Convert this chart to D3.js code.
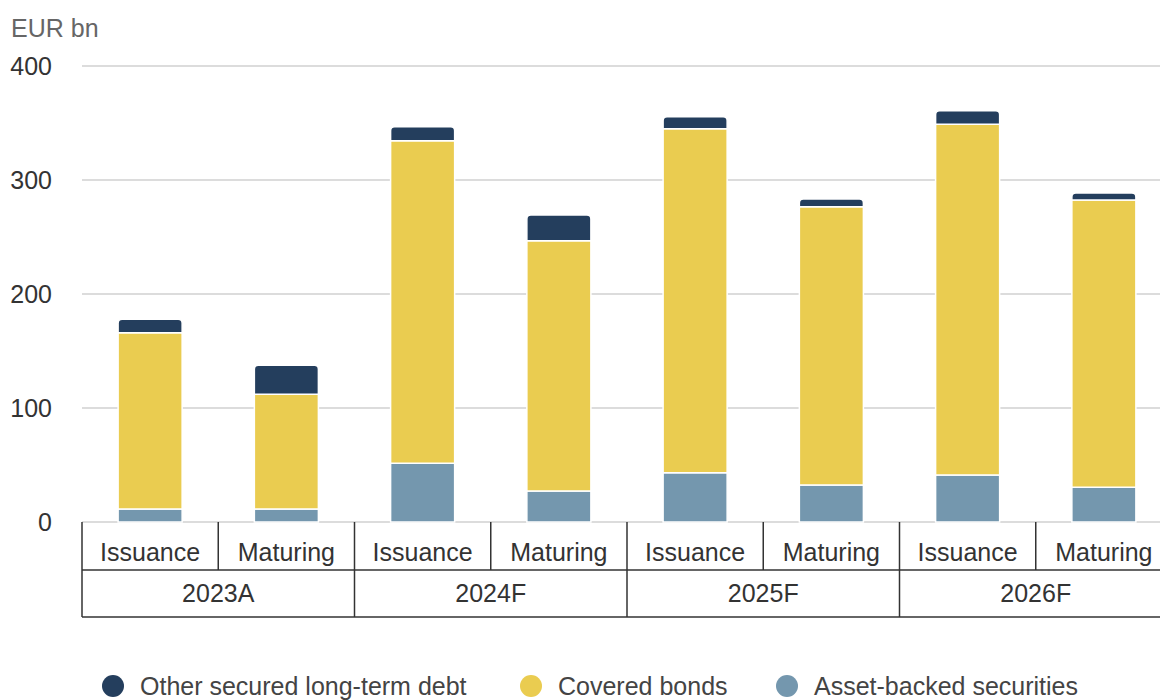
<!DOCTYPE html>
<html>
<head>
<meta charset="utf-8">
<script src="https://cdn.jsdelivr.net/npm/d3@7"></script>
<style>
  body { margin: 0; background: #fff; }
  svg { display: block; font-family: "Liberation Sans", Arial, sans-serif; }
</style>
</head>
<body>
<svg id="chart"></svg>
<script>
"use strict";

// ==========================
// data
// ==========================
var years = ["2023A", "2024F", "2025F", "2026F"],
    flows = ["Issuance", "Maturing"];

// one value per column: year x flow, in the order above
var absValues = [11.4, 11.4, 51.5, 27.2, 43.2, 32.5, 41.2, 30.4],
    coveredValues = [154.6, 100.6, 283, 219.6, 301.8, 244.1, 307.7, 252.1],
    otherValues = [11.8, 25.4, 12.3, 22.5, 10.5, 6.7, 11.9, 6.1];

var yTicks = [0, 100, 200, 300, 400];

var seriesNames = ["Other secured long-term debt", "Covered bonds", "Asset-backed securities"],
    seriesKeys = ["other", "covered", "abs"],
    colors = { other: "#243e5d", covered: "#eacc50", abs: "#7497ae" };

// ==========================
// chart
// ==========================
var width = 1160, height = 700, fs = 25;
var svg = d3.select("#chart").attr("width", width).attr("height", height);

var columns = [];
years.forEach(function (yr, i) {
  flows.forEach(function (f, j) {
    var k = i * flows.length + j;
    columns.push({ id: yr + "|" + f, year: yr, flow: f,
      abs: absValues[k], covered: coveredValues[k], other: otherValues[k] });
  });
});

var left = 82, right = 1172, baseY = 522, topY = 66;

var x = d3.scaleBand().domain(columns.map(function (d) { return d.id; }))
  .range([left, right]).paddingInner(0.53).paddingOuter(0.265);
var cell = d3.scaleBand().domain(columns.map(function (d) { return d.id; }))
  .range([left, right]).padding(0);
var yearCell = d3.scaleBand().domain(years).range([left, right]).padding(0);
var y = d3.scaleLinear().domain([0, 400]).range([baseY, topY]);

// unit label
svg.append("text").attr("x", 11).attr("y", 37)
  .attr("font-size", fs).attr("fill", "#666").text("EUR bn");

// gridlines + tick labels
var yAxis = svg.append("g").attr("class", "axis axis--y");
yAxis.selectAll("line").data(yTicks).enter().append("line")
  .attr("x1", left).attr("x2", width)
  .attr("y1", function (d) { return y(d); }).attr("y2", function (d) { return y(d); })
  .attr("stroke", "#d0d0d0").attr("stroke-width", 1.5);
yAxis.selectAll("text").data(yTicks).enter().append("text")
  .attr("x", 52).attr("y", function (d) { return y(d); }).attr("dy", "0.35em")
  .attr("text-anchor", "end").attr("font-size", fs).attr("fill", "#333")
  .text(function (d) { return d; });

// stacked bars
var stack = d3.stack().keys(["abs", "covered", "other"]);
var layers = stack(columns);

function topRounded(x0, y0, w, h, r) {
  r = Math.min(r, h, w / 2);
  return "M" + x0 + "," + (y0 + h) +
    "V" + (y0 + r) +
    "Q" + x0 + "," + y0 + " " + (x0 + r) + "," + y0 +
    "H" + (x0 + w - r) +
    "Q" + (x0 + w) + "," + y0 + " " + (x0 + w) + "," + (y0 + r) +
    "V" + (y0 + h) + "Z";
}

var barG = svg.append("g");
layers.forEach(function (layer) {
  var isTop = layer.key === "other";
  barG.selectAll(".bar-" + layer.key).data(layer).enter().append("path")
    .attr("class", "bar-" + layer.key)
    .attr("d", function (d) {
      var y0 = y(d[1]), h = y(d[0]) - y(d[1]);
      return topRounded(x(d.data.id), y0, x.bandwidth(), h, isTop ? 4 : 0);
    })
    .attr("fill", colors[layer.key])
    .attr("stroke", "#fff").attr("stroke-width", 1.5);
});

// category table under the axis
var tableG = svg.append("g").attr("stroke", "#333").attr("stroke-width", 1.5);
var row1 = baseY, row2 = 570, row3 = 617;

tableG.selectAll(".sub-div").data(columns).enter().append("line")
  .attr("x1", function (d) { return cell(d.id); }).attr("x2", function (d) { return cell(d.id); })
  .attr("y1", row1).attr("y2", row2);
tableG.selectAll(".yr-div").data(years.concat(["end"])).enter().append("line")
  .attr("x1", function (d) { return d === "end" ? right : yearCell(d); })
  .attr("x2", function (d) { return d === "end" ? right : yearCell(d); })
  .attr("y1", function (d) { return d === "end" ? row1 : row2; }).attr("y2", row3);
tableG.append("line").attr("x1", left).attr("x2", right).attr("y1", row2).attr("y2", row2);
tableG.append("line").attr("x1", left).attr("x2", right).attr("y1", row3).attr("y2", row3);

svg.selectAll(".sub-label").data(columns).enter().append("text")
  .attr("x", function (d) { return cell(d.id) + cell.bandwidth() / 2; })
  .attr("y", (row1 + row2) / 2 + 6).attr("dy", "0.35em")
  .attr("text-anchor", "middle").attr("font-size", fs).attr("fill", "#333")
  .text(function (d) { return d.flow; });
svg.selectAll(".yr-label").data(years).enter().append("text")
  .attr("x", function (d) { return yearCell(d) + yearCell.bandwidth() / 2; })
  .attr("y", (row2 + row3) / 2).attr("dy", "0.35em")
  .attr("text-anchor", "middle").attr("font-size", fs).attr("fill", "#333")
  .text(function (d) { return d; });

// legend
var legendX = [113, 531, 787];
var legend = svg.selectAll(".legend").data(seriesKeys).enter().append("g")
  .attr("transform", function (d, i) { return "translate(" + legendX[i] + ",686)"; });
legend.append("circle").attr("r", 11).attr("fill", function (d) { return colors[d]; });
legend.append("text").attr("x", 27).attr("dy", "0.35em")
  .attr("font-size", fs).attr("fill", "#444")
  .text(function (d, i) { return seriesNames[i]; });
</script>
</body>
</html>
